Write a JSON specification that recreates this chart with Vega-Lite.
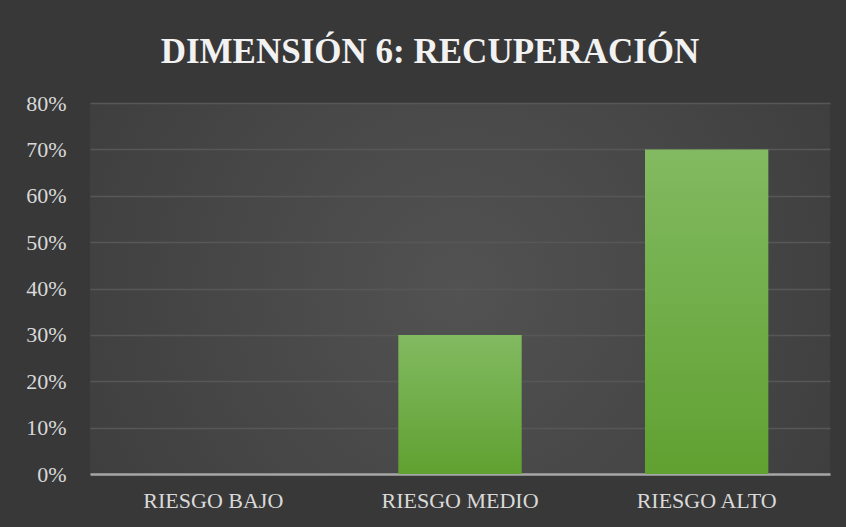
{
  "$schema": "https://vega.github.io/schema/vega-lite/v6.json",
  "width": 740,
  "height": 371,
  "autosize": {"type": "none"},
  "padding": {"left": 90, "top": 103, "right": 16, "bottom": 53},
  "background": "#383838",
  "view": {
    "stroke": null,
    "fill": {
      "gradient": "radial",
      "x1": 0.5, "y1": 0.5, "r1": 0,
      "x2": 0.5, "y2": 0.5, "r2": 0.75,
      "stops": [
        {"offset": 0, "color": "#525252"},
        {"offset": 1, "color": "#383838"}
      ]
    }
  },
  "title": {
    "text": "DIMENSIÓN 6: RECUPERACIÓN",
    "font": "Liberation Serif",
    "fontSize": 35,
    "fontWeight": "bold",
    "color": "#f2f2f2",
    "anchor": "middle",
    "offset": 22,
    "dx": -30
  },
  "data": {
    "values": [
      {"categoria": "RIESGO BAJO", "porcentaje": 0},
      {"categoria": "RIESGO MEDIO", "porcentaje": 0.3},
      {"categoria": "RIESGO ALTO", "porcentaje": 0.7}
    ]
  },
  "mark": {
    "type": "bar",
    "color": {
      "gradient": "linear",
      "x1": 0, "y1": 0, "x2": 0, "y2": 1,
      "stops": [
        {"offset": 0, "color": "#82ba61"},
        {"offset": 1, "color": "#60a131"}
      ]
    }
  },
  "encoding": {
    "x": {
      "field": "categoria",
      "type": "nominal",
      "sort": null,
      "scale": {"paddingInner": 0.5, "paddingOuter": 0.25},
      "axis": {
        "title": null,
        "labelAngle": 0,
        "labelFont": "Liberation Serif",
        "labelFontSize": 22,
        "labelColor": "#d9d9d9",
        "labelPadding": 16,
        "ticks": false,
        "domainColor": "#a6a6a6",
        "domainWidth": 2.5,
        "grid": false
      }
    },
    "y": {
      "field": "porcentaje",
      "type": "quantitative",
      "scale": {"domain": [0, 0.8]},
      "axis": {
        "title": null,
        "format": ".0%",
        "values": [0, 0.1, 0.2, 0.3, 0.4, 0.5, 0.6, 0.7, 0.8],
        "labelOverlap": false,
        "labelFont": "Liberation Serif",
        "labelFontSize": 22,
        "labelColor": "#d9d9d9",
        "labelPadding": 24,
        "ticks": false,
        "domain": false,
        "gridColor": "#575757",
        "gridWidth": 1.5
      }
    }
  }
}
